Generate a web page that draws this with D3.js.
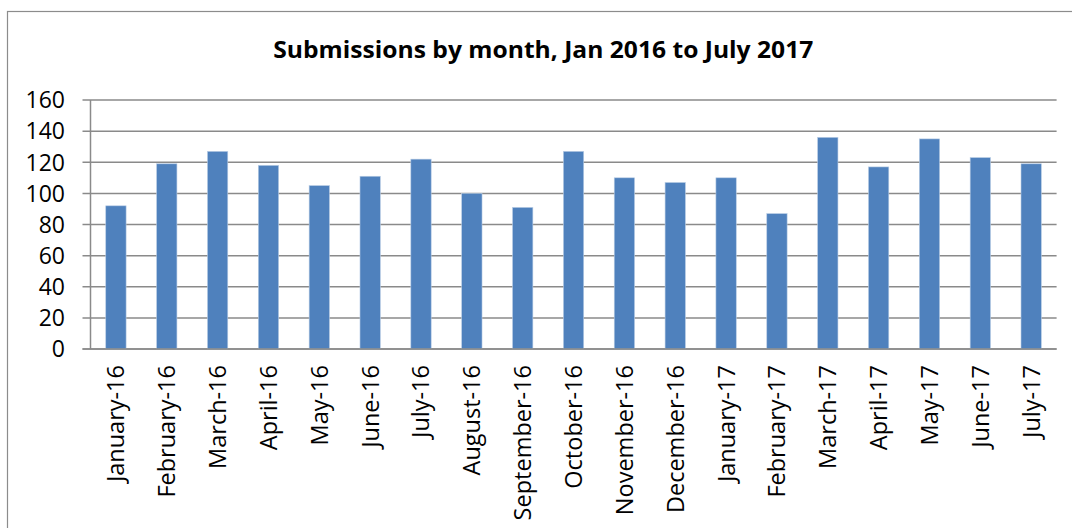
<!DOCTYPE html>
<html><head><meta charset="utf-8">
<script src="https://cdn.jsdelivr.net/npm/d3@7"></script>
<style>body{margin:0;background:#fff}svg{display:block}</style>
</head><body>
<svg id="c" width="1072" height="528"></svg>
<script>
const categories = ["January-16","February-16","March-16","April-16","May-16","June-16","July-16","August-16","September-16","October-16","November-16","December-16","January-17","February-17","March-17","April-17","May-17","June-17","July-17"];
const submissions = [92,119,127,118,105,111,122,100,91,127,110,107,110,87,136,117,135,123,119];
const yTicks = [0,20,40,60,80,100,120,140,160];
const title = "Submissions by month, Jan 2016 to July 2017";

const svg = d3.select("#c");
const font = "'Open Sans', sans-serif";
const pLeft = 90.5, pRight = 1056.6, pTop = 100, pBottom = 349;

svg.append("rect").attr("x",7.5).attr("y",11.5).attr("width",1080).attr("height",540)
  .attr("fill","none").attr("stroke","#8c8c8c").attr("stroke-width",1.2);

const x = d3.scaleBand().domain(categories).range([pLeft,pRight]).paddingInner(0.6).paddingOuter(0.3);
const y = d3.scaleLinear().domain([0,160]).range([pBottom,pTop]);

// gridlines
svg.append("g").selectAll("line").data(yTicks).join("line")
  .attr("x1",pLeft-8).attr("x2",pRight).attr("y1",d=>y(d)).attr("y2",d=>y(d))
  .attr("stroke","#8a8a8a").attr("stroke-width",1.5);

// y axis line
svg.append("line").attr("x1",pLeft).attr("x2",pLeft).attr("y1",pTop).attr("y2",pBottom)
  .attr("stroke","#8a8a8a").attr("stroke-width",1.5);

// bars
svg.append("g").selectAll("rect").data(submissions).join("rect")
  .attr("x",(d,i)=>x(categories[i])).attr("width",x.bandwidth())
  .attr("y",d=>y(d)).attr("height",d=>pBottom-y(d))
  .attr("fill","#4F81BD").attr("stroke","#b9cde5").attr("stroke-width",0.6);

// baseline on top
svg.append("line").attr("x1",pLeft-8).attr("x2",pRight).attr("y1",pBottom).attr("y2",pBottom)
  .attr("stroke","#8a8a8a").attr("stroke-width",1.5);

// y labels
svg.append("g").selectAll("text").data(yTicks).join("text")
  .attr("x",65).attr("y",d=>y(d)).attr("dy","0.36em").attr("text-anchor","end")
  .attr("font-family",font).attr("font-size",23).attr("fill","#000").text(d=>d);

// x labels
svg.append("g").selectAll("text").data(categories).join("text")
  .attr("transform",d=>`translate(${x(d)+x.bandwidth()/2},365) rotate(-90)`)
  .attr("dy","0.36em").attr("text-anchor","end")
  .attr("font-family",font).attr("font-size",23.5).attr("fill","#000").text(d=>d);

// title
svg.append("text").attr("x",543.3).attr("y",57.5).attr("text-anchor","middle")
  .attr("font-family",font).attr("font-weight","bold").attr("font-size",24)
  .attr("textLength",540).attr("lengthAdjust","spacingAndGlyphs")
  .attr("fill","#000").text(title);
</script>
</body></html>
